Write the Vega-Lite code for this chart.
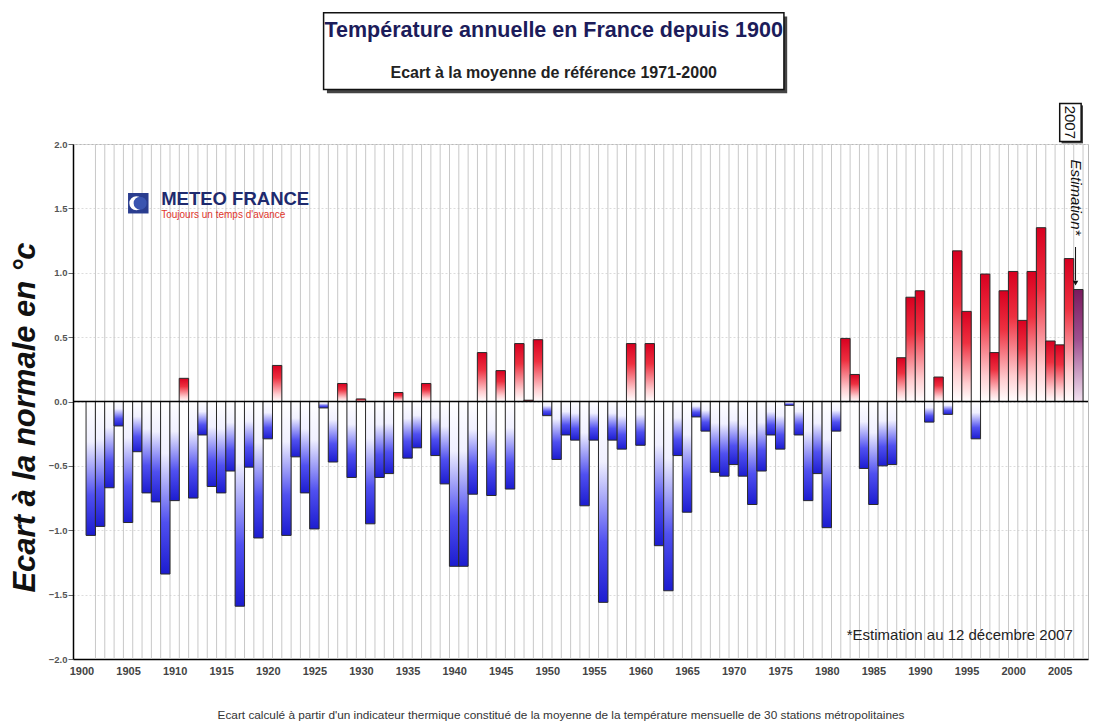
{
  "$schema": "https://vega.github.io/schema/vega-lite/v6.json",
  "background": "white",
  "padding": {"left": 9, "top": 11, "right": 4, "bottom": 2},
  "config": {"font": "Liberation Sans"},
  "title": {"text": "Ecart calculé à partir d'un indicateur thermique constitué de la moyenne de la température mensuelle de 30 stations métropolitaines", "orient": "bottom", "anchor": "middle", "frame": "bounds", "dx": 12, "fontSize": 11.8, "fontWeight": "normal", "color": "#333", "offset": 34},
  "width": 1015,
  "height": 515,
  "view": {"stroke": "#b8b8b8", "strokeWidth": 1},
  "datasets": {
    "temps": [
      {"year": 1901, "value": -1.04}, {"year": 1902, "value": -0.97}, {"year": 1903, "value": -0.67}, {"year": 1904, "value": -0.19}, {"year": 1905, "value": -0.94},
      {"year": 1906, "value": -0.39}, {"year": 1907, "value": -0.71}, {"year": 1908, "value": -0.78}, {"year": 1909, "value": -1.34}, {"year": 1910, "value": -0.77},
      {"year": 1911, "value": 0.18}, {"year": 1912, "value": -0.75}, {"year": 1913, "value": -0.26}, {"year": 1914, "value": -0.66}, {"year": 1915, "value": -0.71},
      {"year": 1916, "value": -0.54}, {"year": 1917, "value": -1.59}, {"year": 1918, "value": -0.51}, {"year": 1919, "value": -1.06}, {"year": 1920, "value": -0.29},
      {"year": 1921, "value": 0.28}, {"year": 1922, "value": -1.04}, {"year": 1923, "value": -0.43}, {"year": 1924, "value": -0.71}, {"year": 1925, "value": -0.99},
      {"year": 1926, "value": -0.05}, {"year": 1927, "value": -0.47}, {"year": 1928, "value": 0.14}, {"year": 1929, "value": -0.59}, {"year": 1930, "value": 0.02},
      {"year": 1931, "value": -0.95}, {"year": 1932, "value": -0.59}, {"year": 1933, "value": -0.56}, {"year": 1934, "value": 0.07}, {"year": 1935, "value": -0.44},
      {"year": 1936, "value": -0.36}, {"year": 1937, "value": 0.14}, {"year": 1938, "value": -0.42}, {"year": 1939, "value": -0.64}, {"year": 1940, "value": -1.28},
      {"year": 1941, "value": -1.28}, {"year": 1942, "value": -0.72}, {"year": 1943, "value": 0.38}, {"year": 1944, "value": -0.73}, {"year": 1945, "value": 0.24},
      {"year": 1946, "value": -0.68}, {"year": 1947, "value": 0.45}, {"year": 1948, "value": 0.01}, {"year": 1949, "value": 0.48}, {"year": 1950, "value": -0.11},
      {"year": 1951, "value": -0.45}, {"year": 1952, "value": -0.26}, {"year": 1953, "value": -0.30}, {"year": 1954, "value": -0.81}, {"year": 1955, "value": -0.30},
      {"year": 1956, "value": -1.56}, {"year": 1957, "value": -0.30}, {"year": 1958, "value": -0.37}, {"year": 1959, "value": 0.45}, {"year": 1960, "value": -0.34},
      {"year": 1961, "value": 0.45}, {"year": 1962, "value": -1.12}, {"year": 1963, "value": -1.47}, {"year": 1964, "value": -0.42}, {"year": 1965, "value": -0.86},
      {"year": 1966, "value": -0.12}, {"year": 1967, "value": -0.23}, {"year": 1968, "value": -0.55}, {"year": 1969, "value": -0.58}, {"year": 1970, "value": -0.49},
      {"year": 1971, "value": -0.58}, {"year": 1972, "value": -0.80}, {"year": 1973, "value": -0.54}, {"year": 1974, "value": -0.26}, {"year": 1975, "value": -0.37},
      {"year": 1976, "value": -0.03}, {"year": 1977, "value": -0.26}, {"year": 1978, "value": -0.77}, {"year": 1979, "value": -0.56}, {"year": 1980, "value": -0.98},
      {"year": 1981, "value": -0.23}, {"year": 1982, "value": 0.49}, {"year": 1983, "value": 0.21}, {"year": 1984, "value": -0.52}, {"year": 1985, "value": -0.80},
      {"year": 1986, "value": -0.50}, {"year": 1987, "value": -0.49}, {"year": 1988, "value": 0.34}, {"year": 1989, "value": 0.81}, {"year": 1990, "value": 0.86},
      {"year": 1991, "value": -0.16}, {"year": 1992, "value": 0.19}, {"year": 1993, "value": -0.10}, {"year": 1994, "value": 1.17}, {"year": 1995, "value": 0.70},
      {"year": 1996, "value": -0.29}, {"year": 1997, "value": 0.99}, {"year": 1998, "value": 0.38}, {"year": 1999, "value": 0.86}, {"year": 2000, "value": 1.01},
      {"year": 2001, "value": 0.63}, {"year": 2002, "value": 1.01}, {"year": 2003, "value": 1.35}, {"year": 2004, "value": 0.47}, {"year": 2005, "value": 0.44},
      {"year": 2006, "value": 1.11}, {"year": 2007, "value": 0.87}
    ]
  },
  "layer": [
    {
      "data": {"name": "temps"},
      "mark": {"type": "rule", "color": "#c8c8c8", "strokeWidth": 1, "xOffset": 4.7},
      "encoding": {
        "x": {
          "field": "year", "type": "quantitative",
          "scale": {"domain": [1899.63, 2007.5], "nice": false, "zero": false},
          "axis": {
            "values": [1900, 1905, 1910, 1915, 1920, 1925, 1930, 1935, 1940, 1945, 1950, 1955, 1960, 1965, 1970, 1975, 1980, 1985, 1990, 1995, 2000, 2005],
            "format": "d", "labelFontSize": 11, "labelFontWeight": "bold", "labelColor": "#444",
            "ticks": false, "grid": false, "domainColor": "#000", "domainWidth": 1.5,
            "labelPadding": 6, "title": null, "labelFlush": false, "labelOverlap": false
          }
        }
      }
    },
    {
      "data": {"name": "temps"},
      "transform": [{"filter": "datum.value < 0"}],
      "mark": {"type": "bar", "width": 9.41, "stroke": "#2a2a2a", "strokeWidth": 1,
        "fill": {"gradient": "linear", "x1": 0, "y1": 0, "x2": 0, "y2": 1, "stops": [
          {"offset": 0, "color": "#ffffff"}, {"offset": 0.3, "color": "#f0f0ff"}, {"offset": 0.7, "color": "#5050f0"}, {"offset": 1, "color": "#1c1cd0"}]}},
      "encoding": {
        "x": {"field": "year", "type": "quantitative"},
        "y": {
          "field": "value", "type": "quantitative",
          "scale": {"domain": [-2, 2], "nice": false},
          "axis": {
            "values": [-2, -1.5, -1, -0.5, 0, 0.5, 1, 1.5, 2],
            "format": ".1f", "labelFontSize": 9.5, "labelFontWeight": "bold", "labelColor": "#555",
            "tickSize": 5, "tickColor": "#666", "labelPadding": 1,
            "domainColor": "#000", "domainWidth": 1.5,
            "grid": true, "gridColor": "#dcdcdc", "gridDash": [2, 2],
            "title": "Ecart à la normale en °c", "titleFontSize": 31, "titleFontStyle": "italic",
            "titleFontWeight": "bold", "titleColor": "#111", "titlePadding": 7, "titleY": 273,
            "labelFlush": false
          }
        }
      }
    },
    {
      "data": {"name": "temps"},
      "transform": [{"filter": "datum.value >= 0 && datum.year < 2007"}],
      "mark": {"type": "bar", "width": 9.41, "stroke": "#2a2a2a", "strokeWidth": 1,
        "fill": {"gradient": "linear", "x1": 0, "y1": 0, "x2": 0, "y2": 1, "stops": [
          {"offset": 0, "color": "#d80020"}, {"offset": 0.35, "color": "#ee3040"}, {"offset": 0.8, "color": "#ffcdd0"}, {"offset": 1, "color": "#ffffff"}]}},
      "encoding": {
        "x": {"field": "year", "type": "quantitative"},
        "y": {"field": "value", "type": "quantitative"}
      }
    },
    {
      "data": {"name": "temps"},
      "transform": [{"filter": "datum.year === 2007"}],
      "mark": {"type": "bar", "width": 9.41, "stroke": "#2a2a2a", "strokeWidth": 1,
        "fill": {"gradient": "linear", "x1": 0, "y1": 0, "x2": 0, "y2": 1, "stops": [
          {"offset": 0, "color": "#7a1a5e"}, {"offset": 0.45, "color": "#a05090"}, {"offset": 1, "color": "#f2e2f0"}]}},
      "encoding": {
        "x": {"field": "year", "type": "quantitative"},
        "y": {"field": "value", "type": "quantitative"}
      }
    },
    {
      "data": {"values": [{}]},
      "mark": {"type": "rule", "color": "#000", "strokeWidth": 1.5},
      "encoding": {"y": {"datum": 0, "type": "quantitative"}}
    },
    {
      "data": {"values": [{}]},
      "mark": {"type": "rect", "fill": "#444"},
      "encoding": {"x": {"datum": 1926.35, "type": "quantitative"}, "x2": {"datum": 1975.75}, "y": {"datum": 2.99, "type": "quantitative"}, "y2": {"datum": 2.395}}
    },
    {
      "data": {"values": [{}]},
      "mark": {"type": "rect", "fill": "white", "stroke": "#111", "strokeWidth": 1.5},
      "encoding": {"x": {"datum": 1925.99, "type": "quantitative"}, "x2": {"datum": 1975.4}, "y": {"datum": 3.02, "type": "quantitative"}, "y2": {"datum": 2.423}}
    },
    {
      "data": {"values": [{"label": "Température annuelle en France depuis 1900"}]},
      "mark": {"type": "text", "align": "center", "baseline": "middle", "fontSize": 21.5, "fontWeight": "bold", "color": "#1c1c5a"},
      "encoding": {"x": {"datum": 1950.69, "type": "quantitative"}, "y": {"datum": 2.874, "type": "quantitative"}, "text": {"field": "label"}}
    },
    {
      "data": {"values": [{"label": "Ecart à la moyenne de référence 1971-2000"}]},
      "mark": {"type": "text", "align": "center", "baseline": "middle", "fontSize": 16, "fontWeight": "bold", "color": "#222"},
      "encoding": {"x": {"datum": 1950.69, "type": "quantitative"}, "y": {"datum": 2.555, "type": "quantitative"}, "text": {"field": "label"}}
    },
    {
      "data": {"values": [{}]},
      "mark": {"type": "point", "shape": "square", "filled": true, "size": 420, "color": "#2a3d8f", "opacity": 1},
      "encoding": {"x": {"datum": 1906.1, "type": "quantitative"}, "y": {"datum": 1.54, "type": "quantitative"}}
    },
    {
      "data": {"values": [{}]},
      "mark": {"type": "point", "shape": "circle", "filled": true, "size": 200, "color": "#ffffff", "opacity": 1},
      "encoding": {"x": {"datum": 1905.9, "type": "quantitative"}, "y": {"datum": 1.54, "type": "quantitative"}}
    },
    {
      "data": {"values": [{}]},
      "mark": {"type": "point", "shape": "circle", "filled": true, "size": 170, "color": "#3a55b0", "opacity": 1},
      "encoding": {"x": {"datum": 1906.3, "type": "quantitative"}, "y": {"datum": 1.54, "type": "quantitative"}}
    },
    {
      "data": {"values": [{"label": "METEO FRANCE"}]},
      "mark": {"type": "text", "align": "left", "baseline": "middle", "fontSize": 18.5, "fontWeight": "bold", "color": "#1e2a6e"},
      "encoding": {"x": {"datum": 1908.56, "type": "quantitative"}, "y": {"datum": 1.57, "type": "quantitative"}, "text": {"field": "label"}}
    },
    {
      "data": {"values": [{"label": "Toujours un temps d'avance"}]},
      "mark": {"type": "text", "align": "left", "baseline": "middle", "fontSize": 10, "color": "#e0352b"},
      "encoding": {"x": {"datum": 1908.56, "type": "quantitative"}, "y": {"datum": 1.445, "type": "quantitative"}, "text": {"field": "label"}}
    },
    {
      "data": {"values": [{"label": "*Estimation au 12 décembre 2007"}]},
      "mark": {"type": "text", "align": "right", "baseline": "middle", "fontSize": 15, "color": "#222"},
      "encoding": {"x": {"datum": 2006.4, "type": "quantitative"}, "y": {"datum": -1.81, "type": "quantitative"}, "text": {"field": "label"}}
    },
    {
      "data": {"values": [{}]},
      "mark": {"type": "rect", "fill": "#444"},
      "encoding": {"x": {"datum": 2005.2, "type": "quantitative"}, "x2": {"datum": 2007.5}, "y": {"datum": 2.005, "type": "quantitative"}, "y2": {"datum": 2.3}}
    },
    {
      "data": {"values": [{}]},
      "mark": {"type": "rect", "fill": "white", "stroke": "#111", "strokeWidth": 1.5},
      "encoding": {"x": {"datum": 2005.0, "type": "quantitative"}, "x2": {"datum": 2007.3}, "y": {"datum": 2.02, "type": "quantitative"}, "y2": {"datum": 2.315}}
    },
    {
      "data": {"values": [{"label": "2007"}]},
      "mark": {"type": "text", "align": "center", "baseline": "middle", "fontSize": 15, "angle": 90, "color": "#111"},
      "encoding": {"x": {"datum": 2006.15, "type": "quantitative"}, "y": {"datum": 2.168, "type": "quantitative"}, "text": {"field": "label"}}
    },
    {
      "data": {"values": [{"label": "Estimation*"}]},
      "mark": {"type": "text", "align": "center", "baseline": "middle", "fontSize": 15, "fontStyle": "italic", "angle": 90, "color": "#111"},
      "encoding": {"x": {"datum": 2006.8, "type": "quantitative"}, "y": {"datum": 1.585, "type": "quantitative"}, "text": {"field": "label"}}
    },
    {
      "data": {"values": [{}]},
      "mark": {"type": "rule", "color": "#111", "strokeWidth": 1},
      "encoding": {"x": {"datum": 2006.7, "type": "quantitative"}, "y": {"datum": 1.2, "type": "quantitative"}, "y2": {"datum": 0.94}}
    },
    {
      "data": {"values": [{}]},
      "mark": {"type": "point", "shape": "triangle-down", "filled": true, "size": 30, "color": "#111", "opacity": 1},
      "encoding": {"x": {"datum": 2006.7, "type": "quantitative"}, "y": {"datum": 0.92, "type": "quantitative"}}
    }
  ]
}
